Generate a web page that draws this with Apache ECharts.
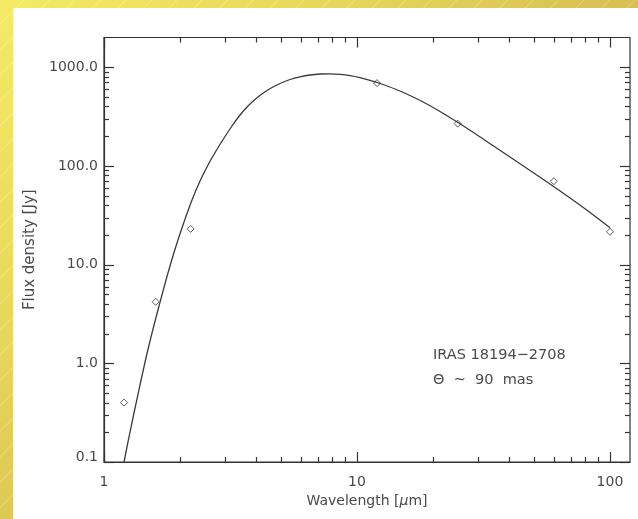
<!DOCTYPE html>
<html>
<head>
<meta charset="utf-8">
<script src="https://cdn.jsdelivr.net/npm/echarts@6/dist/echarts.min.js"></script>
<style>
  html, body { margin: 0; padding: 0; }
  body {
    width: 638px; height: 519px; position: relative; overflow: hidden;
    background:
      repeating-linear-gradient(135deg, rgba(255,255,255,0) 0px, rgba(255,255,255,0) 16px, rgba(255,255,255,0.25) 17px, rgba(255,255,255,0) 18px),
      radial-gradient(circle at 0% 0%, #f4ea64 0px, #e8d85a 320px, #d4bb50 680px);
  }
  #paper { position: absolute; left: 13px; top: 8px; right: 0; bottom: 0; background: #fff; }
  #chart { position: absolute; left: 0; top: 0; width: 638px; height: 519px; }
</style>
</head>
<body>
<div id="paper"></div>
<div id="chart"></div>
<script>
// Spectral energy distribution of IRAS 18194-2708: photometry and model fit.

// Photometric measurements (wavelength in micron, flux density in Jy)
const obsWavelength = [1.2, 1.6, 2.2, 12, 25, 60, 100];
const obsFlux = [0.40, 4.2, 23, 690, 268, 70, 21.5];

// Model curve sampled along the fit
const modelWavelength = [
  1.200, 1.267, 1.350, 1.453, 1.548, 1.650, 1.790, 1.926, 2.072, 2.228,
  2.396, 2.577, 2.771, 2.981, 3.206, 3.449, 3.709, 3.990, 4.291, 4.615,
  4.963, 5.436, 5.954, 6.522, 7.143, 7.824, 8.569, 9.384, 10.28, 11.26,
  12.33, 14.14, 16.20, 18.57, 21.29, 25.07, 29.28, 34.18, 40.26, 48.31,
  57.94, 69.54, 83.41, 100];
const modelFlux = [
  0.100, 0.2013, 0.4347, 1.031, 2.028, 3.806, 8.220, 15.43, 27.02, 45.12,
  70.31, 102.1, 141.6, 191.8, 253.7, 327.9, 404.5, 481.8, 554.3, 622.9,
  683.9, 750.6, 799.3, 833.7, 853.3, 857.3, 845.3, 822.0, 784.5, 736.6,
  683.9, 601.4, 516.7, 433.8, 355.8, 275.3, 213.0, 162.8, 123.1, 89.84,
  65.56, 47.28, 33.72, 23.65];

// Axis ranges and ticks
const xRange = [1, 120];
const yRange = [0.1, 2000];
const xMajorTicks = [1, 10, 100];
const xTickLabels = ['1', '10', '100'];
const xMinorTicks = [2, 3, 4, 5, 6, 7, 8, 9, 20, 30, 40, 50, 60, 70, 80, 90];
const yMajorTicks = [0.1, 1, 10, 100, 1000];
const yTickLabels = ['0.1', '1.0', '10.0', '100.0', '1000.0'];
const yMinorTicks = [0.2, 0.3, 0.4, 0.5, 0.6, 0.7, 0.8, 0.9, 2, 3, 4, 5, 6, 7, 8, 9,
  20, 30, 40, 50, 60, 70, 80, 90, 200, 300, 400, 500, 600, 700, 800, 900];

const FONT = 'DejaVu Sans';
const INK = '#333';
const TEXT = '#4a4a4a';

function labelFor(ticks, labels, v) {
  for (let i = 0; i < ticks.length; i++) {
    if (Math.abs(Math.log10(v) - Math.log10(ticks[i])) < 1e-6) return labels[i];
  }
  return '';
}

const chart = echarts.init(document.getElementById('chart'), null, { renderer: 'canvas' });

const xTickData = xMajorTicks.map(v => [v, yRange[0], 1]).concat(xMinorTicks.map(v => [v, yRange[0], 0]));
const yTickData = yMajorTicks.map(v => [xRange[0], v, 1]).concat(yMinorTicks.map(v => [xRange[0], v, 0]));

function snap(v) { return Math.round(v) + 0.5; }

chart.setOption({
  animation: false,
  backgroundColor: 'transparent',
  textStyle: { fontFamily: FONT },
  grid: {
    left: 104, right: 8, top: 37.5, bottom: 57,
    show: true, borderColor: INK, borderWidth: 1.2, backgroundColor: 'transparent'
  },
  xAxis: {
    type: 'log', logBase: 10, min: xRange[0], max: xRange[1],
    axisLine: { show: true, lineStyle: { color: INK, width: 1.2 } },
    axisTick: { show: false },
    splitLine: { show: false },
    minorTick: { show: false },
    axisLabel: {
      margin: 13, color: TEXT, fontSize: 14, fontFamily: FONT,
      formatter: v => labelFor(xMajorTicks, xTickLabels, v)
    },
    name: 'Wavelength [{mu|µ}m]',
    nameLocation: 'middle', nameGap: 32,
    nameTextStyle: {
      color: TEXT, fontSize: 14, fontFamily: FONT,
      rich: { mu: { fontStyle: 'italic', color: TEXT, fontSize: 14, fontFamily: FONT } }
    }
  },
  yAxis: {
    type: 'log', logBase: 10, min: yRange[0], max: yRange[1],
    axisLine: { show: true, lineStyle: { color: INK, width: 1.2 } },
    axisTick: { show: false },
    splitLine: { show: false },
    minorTick: { show: false },
    axisLabel: {
      margin: 6, color: TEXT, fontSize: 14, fontFamily: FONT,
      formatter: v => {
        const s = labelFor(yMajorTicks, yTickLabels, v);
        return Math.abs(v - yRange[0]) < 1e-9 && s ? '{low|' + s + '}' : s;
      },
      rich: { low: { padding: [0, 0, 9, 0], color: TEXT, fontSize: 14, fontFamily: FONT } }
    },
    name: 'Flux density [Jy]',
    nameLocation: 'middle', nameGap: 66, nameRotate: 90,
    nameTextStyle: { color: TEXT, fontSize: 15, fontFamily: FONT }
  },
  series: [
    {
      // ticks on the bottom and top edges
      type: 'custom', silent: true, clip: false, z: 5,
      data: xTickData,
      renderItem(params, api) {
        const p = api.coord([api.value(0), api.value(1)]);
        const cs = params.coordSys;
        const len = api.value(2) ? 10 : 5;
        const x = snap(p[0]);
        const st = { stroke: INK, lineWidth: 1.2 };
        return {
          type: 'group', children: [
            { type: 'line', shape: { x1: x, y1: cs.y + cs.height, x2: x, y2: cs.y + cs.height - len }, style: st },
            { type: 'line', shape: { x1: x, y1: cs.y, x2: x, y2: cs.y + len }, style: st }
          ]
        };
      }
    },
    {
      // ticks on the left and right edges
      type: 'custom', silent: true, clip: false, z: 5,
      data: yTickData,
      renderItem(params, api) {
        const p = api.coord([api.value(0), api.value(1)]);
        const cs = params.coordSys;
        const len = api.value(2) ? 10 : 5;
        const y = snap(p[1]);
        const st = { stroke: INK, lineWidth: 1.2 };
        return {
          type: 'group', children: [
            { type: 'line', shape: { x1: cs.x, y1: y, x2: cs.x + len, y2: y }, style: st },
            { type: 'line', shape: { x1: cs.x + cs.width, y1: y, x2: cs.x + cs.width - len, y2: y }, style: st }
          ]
        };
      }
    },
    {
      name: 'Model',
      type: 'line',
      data: modelWavelength.map((w, i) => [w, modelFlux[i]]),
      smooth: 0.3,
      showSymbol: false,
      clip: true,
      lineStyle: { color: '#3a3a3a', width: 1.3 },
      z: 3
    },
    {
      name: 'Photometry',
      type: 'scatter',
      data: obsWavelength.map((w, i) => [w, obsFlux[i]]),
      symbol: 'path://M5,0L10,5L5,10L0,5Z',
      symbolSize: 7,
      itemStyle: { color: 'rgba(255,255,255,0)', borderColor: '#333', borderWidth: 1 },
      z: 4
    }
  ],
  graphic: [
    {
      type: 'text', left: 433, top: 348, z: 10,
      style: { text: 'IRAS 18194\u22122708', font: '14.5px "DejaVu Sans"', fill: TEXT }
    },
    {
      type: 'text', left: 433, top: 373, z: 10,
      style: { text: '\u0398  ~  90  mas', font: '14.5px "DejaVu Sans"', fill: TEXT }
    }
  ]
});
</script>
</body>
</html>
